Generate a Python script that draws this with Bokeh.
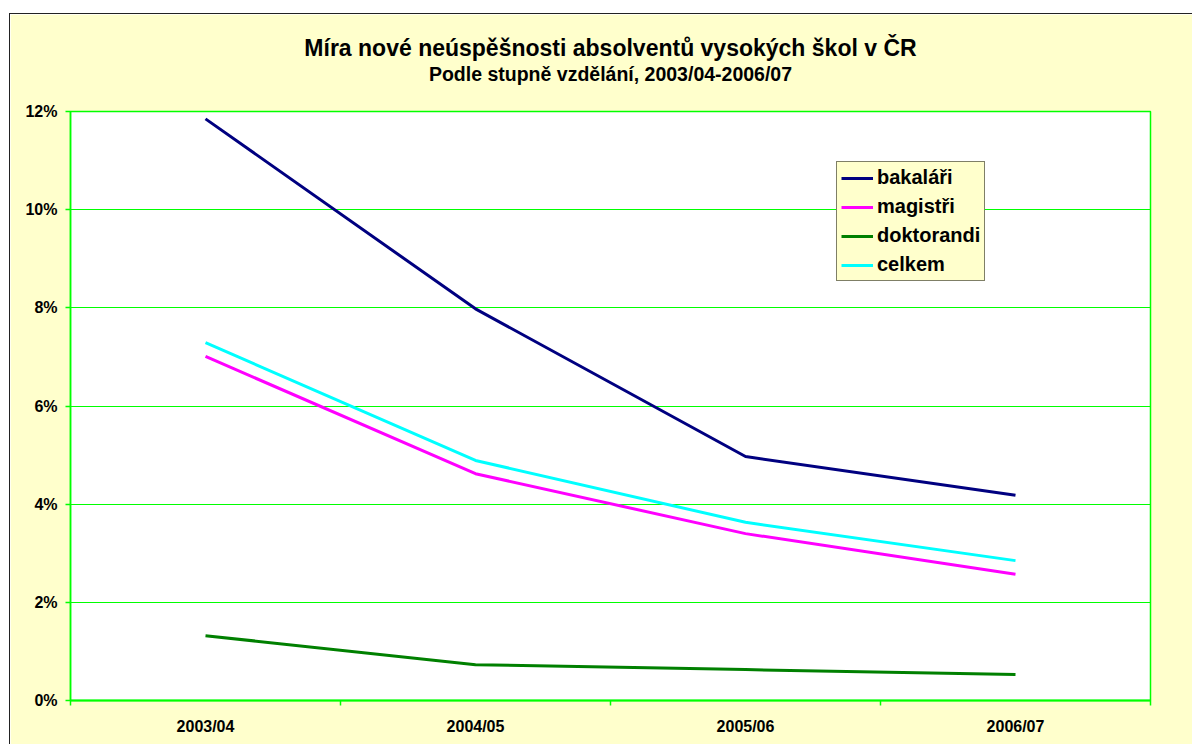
import numpy as np
from bokeh.plotting import figure
from bokeh.models import (Range1d, FixedTicker, NumeralTickFormatter, Legend,
                          LegendItem, Spacer, Title)
from bokeh.layouts import column, row
from bokeh.embed import file_html
from bokeh.resources import INLINE

# ---- data ----
categories = ["2003/04", "2004/05", "2005/06", "2006/07"]
bakalari = [0.1185, 0.0798, 0.0497, 0.0418]
magistri = [0.0701, 0.0462, 0.0340, 0.0257]
doktorandi = [0.0132, 0.0073, 0.0063, 0.0053]
celkem = [0.0729, 0.0489, 0.0363, 0.0285]
series_names = ["bakaláři", "magistři", "doktorandi", "celkem"]
y_ticks = [0.0, 0.02, 0.04, 0.06, 0.08, 0.10, 0.12]
title_text = "Míra nové neúspěšnosti absolventů vysokých škol v ČR"
subtitle_text = "Podle stupně vzdělání, 2003/04-2006/07"

FONT = "Liberation Sans"
BG = "#FFFFCC"
GRID = "#00FF00"

n = len(categories)
xs = np.arange(n) + 0.5

p = figure(width=1182, height=730, output_backend="svg", toolbar_location=None,
           x_range=Range1d(0, n), y_range=Range1d(0, 0.12),
           min_border_left=60, min_border_right=42, min_border_top=97, min_border_bottom=44,
           background_fill_color="white", border_fill_color=BG)
p.outline_line_color = GRID
p.outline_line_width = 1.5

# x axis
p.xaxis.ticker = FixedTicker(ticks=list(xs), minor_ticks=list(range(n + 1)))
p.xaxis.major_label_overrides = {float(x): c for x, c in zip(xs, categories)}
p.xaxis.major_tick_out = 0
p.xaxis.major_tick_in = 0
p.xaxis.minor_tick_out = 5
p.xaxis.minor_tick_in = 0
p.xaxis.minor_tick_line_color = GRID
p.xaxis.minor_tick_line_width = 1.5
p.xaxis.axis_line_color = GRID
p.xaxis.axis_line_width = 2
p.xaxis.major_label_standoff = 12
p.xaxis.major_label_text_font = FONT
p.xaxis.major_label_text_font_style = "bold"
p.xaxis.major_label_text_font_size = "16px"
p.xaxis.major_label_text_color = "black"

# y axis
p.yaxis.ticker = FixedTicker(ticks=y_ticks)
p.yaxis.formatter = NumeralTickFormatter(format="0%")
p.yaxis.major_tick_out = 5
p.yaxis.major_tick_in = 0
p.yaxis.minor_tick_out = 0
p.yaxis.minor_tick_in = 0
p.yaxis.major_tick_line_color = GRID
p.yaxis.major_tick_line_width = 1.5
p.yaxis.axis_line_color = GRID
p.yaxis.axis_line_width = 1.5
p.yaxis.major_label_standoff = 8
p.yaxis.major_label_text_font = FONT
p.yaxis.major_label_text_font_style = "bold"
p.yaxis.major_label_text_font_size = "16px"
p.yaxis.major_label_text_color = "black"

p.xgrid.visible = False
p.ygrid.ticker = FixedTicker(ticks=y_ticks)
p.ygrid.grid_line_color = GRID
p.ygrid.grid_line_width = 1

colors = ["#000080", "#FF00FF", "#008000", "#00FFFF"]
items = []
for name, vals, col in zip(series_names, [bakalari, magistri, doktorandi, celkem], colors):
    r = p.line(xs, vals, line_color=col, line_width=3)
    items.append(LegendItem(label=name, renderers=[r]))

legend = Legend(items=items, location=(766, 419),
                background_fill_color=BG, background_fill_alpha=1,
                border_line_color="black", border_line_width=1,
                label_text_font=FONT, label_text_font_style="bold",
                label_text_font_size="20px", label_text_color="black",
                glyph_width=32, glyph_height=18, label_height=18,
                label_standoff=4, spacing=6, padding=4, margin=0)
p.add_layout(legend, "center")

# titles (first added sits nearest the frame)
p.add_layout(Title(text=" ", align="center", standoff=11,
                   text_font=FONT, text_font_size="12px"), "above")
p.add_layout(Title(text=subtitle_text, align="center", standoff=0,
                   text_font=FONT, text_font_style="bold", text_font_size="19.5px",
                   text_color="black"), "above")
p.add_layout(Title(text=title_text, align="center", standoff=0,
                   text_font=FONT, text_font_style="bold", text_font_size="23px",
                   text_color="black"), "above")

left_border = Spacer(width=1, height=731, styles={"background-color": "#222222"})
top_border = Spacer(width=1182, height=1, styles={"background-color": "#222222"})
layout = column(Spacer(width=10, height=13),
                row(Spacer(width=9, height=10), left_border, column(top_border, p)))

open("out.html", "w").write(file_html(layout, INLINE))
